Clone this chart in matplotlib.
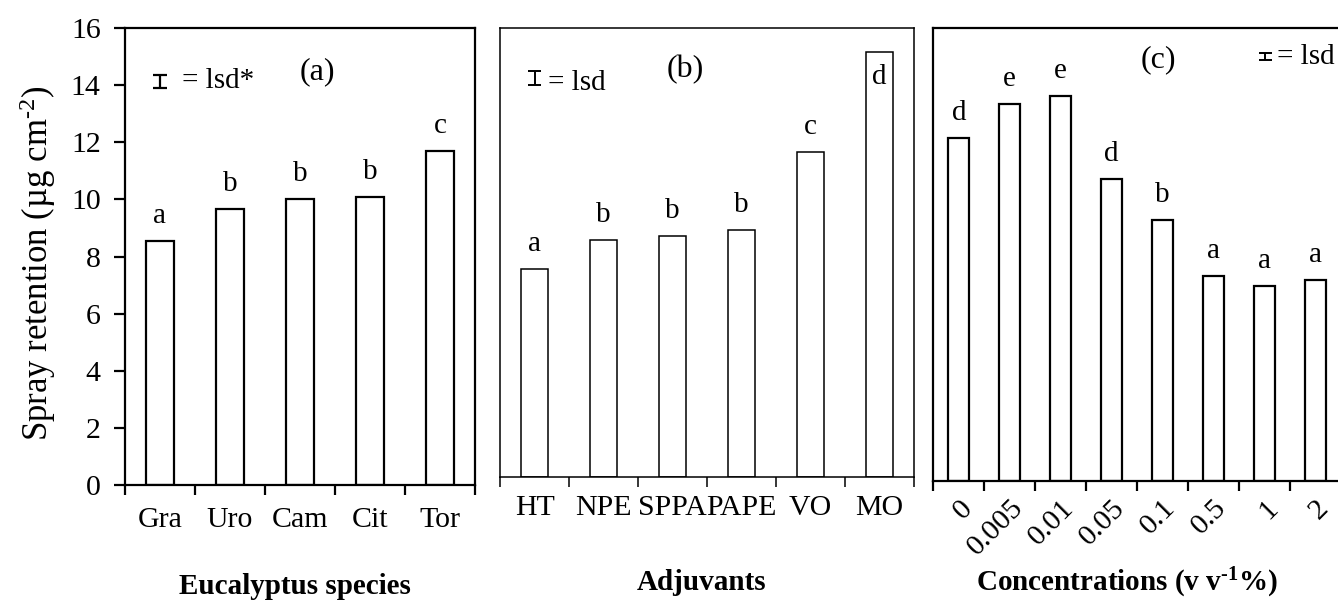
import matplotlib
matplotlib.use("Agg")
import matplotlib.pyplot as plt
import numpy as np

plt.rcParams.update({
    "font.family": "Liberation Serif",
    "mathtext.fontset": "custom",
    "mathtext.rm": "Liberation Serif",
    "mathtext.it": "Liberation Serif:italic",
    "mathtext.bf": "Liberation Serif:bold",
})

# data
species = ["Gra", "Uro", "Cam", "Cit", "Tor"]
species_ret = [8.54, 9.65, 10.0, 10.08, 11.69]
species_grp = ["a", "b", "b", "b", "c"]

adjuvants = ["HT", "NPE", "SPPA", "PAPE", "VO", "MO"]
adjuvant_ret = [7.4, 8.46, 8.58, 8.8, 11.58, 15.16]
adjuvant_grp = ["a", "b", "b", "b", "c", "d"]

concs = ["0", "0.005", "0.01", "0.05", "0.1", "0.5", "1", "2"]
conc_ret = [12.14, 13.31, 13.61, 10.69, 9.22, 7.24, 6.9, 7.12]
conc_grp = ["d", "e", "e", "d", "b", "a", "a", "a"]

FS = 21.5
HY = "\u2010"  # short hyphen used in the superscripts

fig = plt.figure(figsize=(13.38, 6.05), dpi=100)
ax_a = fig.add_axes([0.0934, 0.1983, 0.2616, 0.7554])
ax_b = fig.add_axes([0.3737, 0.2121, 0.3094, 0.7411])
ax_c = fig.add_axes([0.6976, 0.2050, 0.3044, 0.7482])


def lsd_symbol(ax, x, y, w_px, h_px, lw=1.6):
    bb = ax.get_position()
    W = bb.width * fig.get_figwidth() * fig.dpi
    H = bb.height * fig.get_figheight() * fig.dpi
    dx, dy = w_px / W / 2, h_px / H / 2
    kw = dict(color="black", lw=lw, transform=ax.transAxes, clip_on=False,
              solid_capstyle="butt")
    ax.plot([x, x], [y - dy, y + dy], **kw)
    ax.plot([x - dx, x + dx], [y + dy, y + dy], **kw)
    ax.plot([x - dx, x + dx], [y - dy, y - dy], **kw)


def panel(ax, labels, vals, grps, width, lw, pad, inside_last=False):
    n = len(labels)
    x = np.arange(n)
    ax.bar(x, vals, width=width, color="white", edgecolor="black", linewidth=lw)
    for i, (v, g) in enumerate(zip(vals, grps)):
        off = 18
        if inside_last and i == n - 1:
            off = -18
        ax.annotate(g, (i, v), xytext=(0, off), textcoords="offset points",
                    ha="center", va="center", fontsize=21)
    ax.set_xlim(-0.5, n - 0.5)
    ax.set_ylim(0, 16)
    ax.set_xticks(np.arange(n + 1) - 0.5)
    ax.set_xticklabels([])
    ax.set_xticks(x, minor=True)
    ax.set_xticklabels(labels, minor=True, fontsize=FS)
    ax.tick_params(axis="x", which="major", direction="out", length=7, width=lw)
    ax.tick_params(axis="x", which="minor", length=0, pad=pad)
    for s in ax.spines.values():
        s.set_linewidth(lw)


panel(ax_a, species, species_ret, species_grp, 0.4, 1.6, 16)
ax_a.set_yticks(range(0, 17, 2))
ax_a.tick_params(axis="y", direction="out", length=8, width=1.6,
                 labelsize=FS, pad=9.5)
ax_a.set_ylabel("Spray retention (µg cm$^{" + HY + "2}$)", fontsize=25)
ax_a.yaxis.set_label_coords(-0.19, 0.485)
ax_a.text(0.549, 0.904, "(a)", transform=ax_a.transAxes, ha="center",
          va="center", fontsize=23)
lsd_symbol(ax_a, 0.1, 0.884, 14, 13)
ax_a.text(0.163, 0.884, "= lsd*", transform=ax_a.transAxes, ha="left",
          va="center", fontsize=21)

panel(ax_b, adjuvants, adjuvant_ret, adjuvant_grp, 0.4, 1.1, 13, inside_last=True)
ax_b.set_yticks([])
ax_b.text(0.4485, 0.907, "(b)", transform=ax_b.transAxes, ha="center",
          va="center", fontsize=23)
lsd_symbol(ax_b, 0.0845, 0.89, 13, 14, lw=1.4)
ax_b.text(0.116, 0.878, "= lsd", transform=ax_b.transAxes, ha="left",
          va="center", fontsize=21)

panel(ax_c, concs, conc_ret, conc_grp, 0.41, 1.6, 10)
ax_c.set_yticks([])
ax_c.set_xticklabels(concs, minor=True, fontsize=FS, rotation=45,
                     ha="right", rotation_mode="anchor")
ax_c.spines["right"].set_visible(False)
ax_c.text(0.552, 0.930, "(c)", transform=ax_c.transAxes, ha="center",
          va="center", fontsize=23)
lsd_symbol(ax_c, 0.815, 0.937, 13, 7, lw=1.4)
ax_c.text(0.844, 0.937, "= lsd", transform=ax_c.transAxes, ha="left",
          va="center", fontsize=21)

fig.text(295 / 1338, 1 - 587 / 605, "Eucalyptus species", ha="center",
         va="center", fontsize=21, fontweight="bold")
fig.text(701.7 / 1338, 1 - 582 / 605, "Adjuvants", ha="center",
         va="center", fontsize=21, fontweight="bold")
fig.text(1126.7 / 1338, 1 - 583 / 605,
         "Concentrations (v v$^{\\mathbf{" + HY + "1}}$%)",
         ha="center", va="center", fontsize=21, fontweight="bold")

fig.savefig("out.png", dpi=100)
